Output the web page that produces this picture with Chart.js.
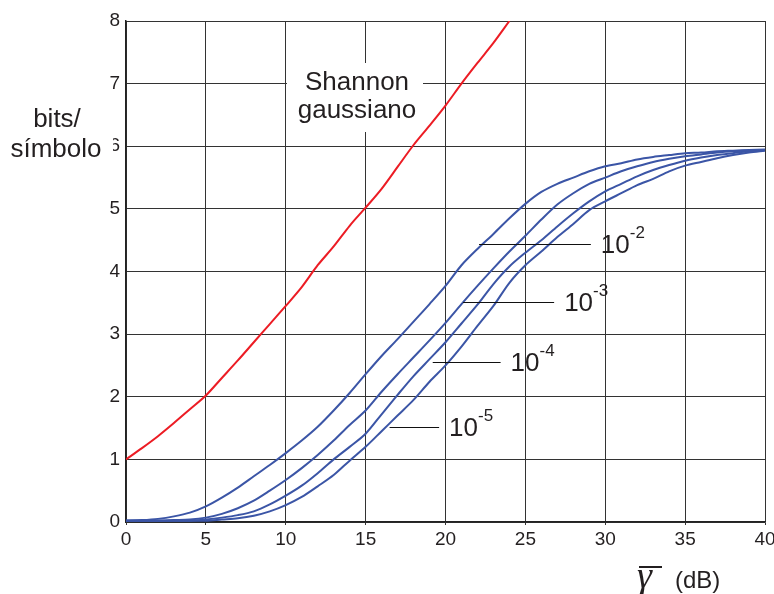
<!DOCTYPE html>
<html>
<head>
<meta charset="utf-8">
<script src="https://cdn.jsdelivr.net/npm/chart.js@4.4.0/dist/chart.umd.min.js"></script>
<style>
  html, body { margin: 0; padding: 0; background: #fff; }
</style>
</head>
<body>
<canvas id="mycanvas" width="774" height="594"></canvas>
<script>
// mean SNR in dB
const snrDb = [0, 1, 2, 3, 4, 5, 6, 7, 8, 9, 10, 11, 12, 13, 14, 15, 16, 17, 18, 19, 20,
               21, 22, 23, 24, 25, 26, 27, 28, 29, 30, 31, 32, 33, 34, 35, 36, 37, 38, 39, 40];

// Shannon capacity, gaussian channel (stops where it leaves the plot)
const shannonDb = [0, 1, 2, 3, 4, 5, 6, 7, 8, 9, 10, 11, 12, 13, 14, 15, 16, 17, 18, 19, 20, 21, 22, 23, 24];
const shannon = [1.0, 1.18, 1.37, 1.58, 1.8, 2.02, 2.3, 2.58, 2.87, 3.16, 3.45, 3.75, 4.1, 4.4, 4.73,
                 5.02, 5.32, 5.67, 6.02, 6.33, 6.65, 7.0, 7.33, 7.65, 8.0];

// bits/symbol for each target BER
const ber2 = [0.02, 0.03, 0.05, 0.09, 0.15, 0.25, 0.39, 0.55, 0.73, 0.91, 1.1, 1.3, 1.52, 1.78, 2.06,
              2.36, 2.65, 2.92, 3.2, 3.48, 3.77, 4.1, 4.36, 4.6, 4.85, 5.08, 5.27, 5.4, 5.5, 5.6,
              5.68, 5.73, 5.79, 5.83, 5.86, 5.89, 5.9, 5.92, 5.93, 5.94, 5.95];
const ber3 = [0.02, 0.02, 0.02, 0.03, 0.04, 0.07, 0.13, 0.22, 0.34, 0.5, 0.67, 0.86, 1.07, 1.3, 1.55,
              1.78, 2.08, 2.36, 2.63, 2.9, 3.18, 3.48, 3.77, 4.05, 4.32, 4.57, 4.83, 5.07, 5.25, 5.4,
              5.5, 5.6, 5.68, 5.75, 5.8, 5.84, 5.87, 5.9, 5.92, 5.93, 5.94];
const ber4 = [0.02, 0.02, 0.02, 0.02, 0.02, 0.04, 0.07, 0.11, 0.17, 0.28, 0.42, 0.58, 0.78, 1.0, 1.2,
              1.41, 1.72, 2.03, 2.33, 2.6, 2.87, 3.17, 3.47, 3.8, 4.08, 4.3, 4.5, 4.72, 4.93, 5.12,
              5.28, 5.4, 5.52, 5.62, 5.7, 5.77, 5.82, 5.86, 5.89, 5.92, 5.94];
const ber5 = [0.02, 0.02, 0.02, 0.02, 0.02, 0.02, 0.04, 0.06, 0.1, 0.17, 0.27, 0.4, 0.57, 0.75, 0.98,
              1.2, 1.45, 1.7, 1.95, 2.24, 2.5, 2.8, 3.13, 3.45, 3.82, 4.1, 4.32, 4.55, 4.76, 4.98,
              5.12, 5.25, 5.38, 5.48, 5.6, 5.69, 5.75, 5.81, 5.86, 5.9, 5.93];

const berExponents = ["-2", "-3", "-4", "-5"];
const xTicks = [0, 5, 10, 15, 20, 25, 30, 35, 40];
const yTicks = [0, 1, 2, 3, 4, 5, 6, 7, 8];

const FONT = "'Liberation Sans', Arial, sans-serif";
const INK = "#231f20";
const BLUE = "#3b55a6";
const RED = "#ec1c24";

function pts(xs, ys) {
    return xs.map((x, i) => ({ x: x, y: ys[i] }));
}

// leader lines for the BER labels, in data units: [x from, x to, y]
const leaders = [
    [22.1, 29.1, 4.44],
    [21.1, 26.8, 3.52],
    [19.2, 23.45, 2.55],
    [16.5, 19.6, 1.52]
];

const annotations = {
    id: "annotations",
    afterDraw(chart) {
        const c = chart.ctx;
        const xs = chart.scales.x;
        const ys = chart.scales.y;
        c.save();

        // Shannon label sits on a white patch that breaks the grid
        c.fillStyle = "#fff";
        c.fillRect(287, 63, 136, 69);
        c.fillStyle = INK;
        c.font = "26px " + FONT;
        c.textAlign = "center";
        c.textBaseline = "alphabetic";
        c.fillText("Shannon", 357, 90);
        c.fillText("gaussiano", 357, 118);

        // BER labels with leader lines
        c.strokeStyle = "#111";
        c.lineWidth = 1;
        leaders.forEach((l, i) => {
            const x0 = xs.getPixelForValue(l[0]);
            const x1 = xs.getPixelForValue(l[1]);
            const y = Math.round(ys.getPixelForValue(l[2])) + 0.5;
            c.beginPath();
            c.moveTo(x0, y);
            c.lineTo(x1, y);
            c.stroke();
            c.textAlign = "left";
            c.textBaseline = "middle";
            c.font = "26px " + FONT;
            c.fillText("10", x1 + 10, y + 1);
            const w = c.measureText("10").width;
            c.font = "17px " + FONT;
            c.fillText(berExponents[i], x1 + 10 + w, y - 11);
        });

        // y axis title, white box hides part of a tick label
        c.fillStyle = "#fff";
        c.fillRect(6, 135, 107, 26);
        c.fillStyle = INK;
        c.font = "26px " + FONT;
        c.textAlign = "center";
        c.textBaseline = "alphabetic";
        c.fillText("bits/", 57, 127);
        c.fillText("símbolo", 56, 157);

        // x axis title: gamma with bar, then (dB)
        c.font = "italic 38px 'Liberation Serif', 'Times New Roman', serif";
        c.textAlign = "left";
        c.fillText("γ", 637, 588);
        c.strokeStyle = INK;
        c.lineWidth = 2;
        c.beginPath();
        c.moveTo(639, 567);
        c.lineTo(662, 567);
        c.stroke();
        c.font = "24px " + FONT;
        c.fillText("(dB)", 675, 588);

        c.restore();
    }
};

const canvas = document.getElementById("mycanvas");
const ctx = canvas.getContext("2d");

const lineStyle = {
    borderWidth: 2,
    pointRadius: 0,
    fill: false,
    tension: 0.3
};

var chart = new Chart(ctx, {
    type: "line",
    data: {
        datasets: [
            Object.assign({ label: "Shannon", data: pts(shannonDb, shannon), borderColor: RED }, lineStyle),
            Object.assign({ label: "1e-2", data: pts(snrDb, ber2), borderColor: BLUE }, lineStyle),
            Object.assign({ label: "1e-3", data: pts(snrDb, ber3), borderColor: BLUE }, lineStyle),
            Object.assign({ label: "1e-4", data: pts(snrDb, ber4), borderColor: BLUE }, lineStyle),
            Object.assign({ label: "1e-5", data: pts(snrDb, ber5), borderColor: BLUE }, lineStyle)
        ]
    },
    options: {
        responsive: false,
        animation: false,
        layout: {
            padding: { top: 21, right: 9, left: 0, bottom: 0 }
        },
        scales: {
            x: {
                type: "linear",
                min: 0,
                max: 40,
                afterBuildTicks: (s) => { s.ticks = xTicks.map(v => ({ value: v })); },
                afterFit: (s) => { s.height = 72; s.paddingLeft = 0; s.paddingRight = 0; },
                ticks: { font: { size: 19, family: FONT }, color: INK, padding: 3, maxRotation: 0 },
                grid: { color: "#333", lineWidth: 1, tickLength: 3 },
                border: { color: "#222", width: 1.5 }
            },
            y: {
                min: 0,
                max: 8,
                afterBuildTicks: (s) => { s.ticks = yTicks.map(v => ({ value: v })); },
                afterFit: (s) => { s.width = 126; s.paddingTop = 0; s.paddingBottom = 0; },
                ticks: { font: { size: 19, family: FONT }, color: INK, padding: 6 },
                grid: { color: "#333", lineWidth: 1, drawTicks: false },
                border: { color: "#222", width: 1.5 }
            }
        },
        plugins: {
            legend: { display: false },
            tooltip: { enabled: false }
        }
    },
    plugins: [annotations]
});
</script>
</body>
</html>
